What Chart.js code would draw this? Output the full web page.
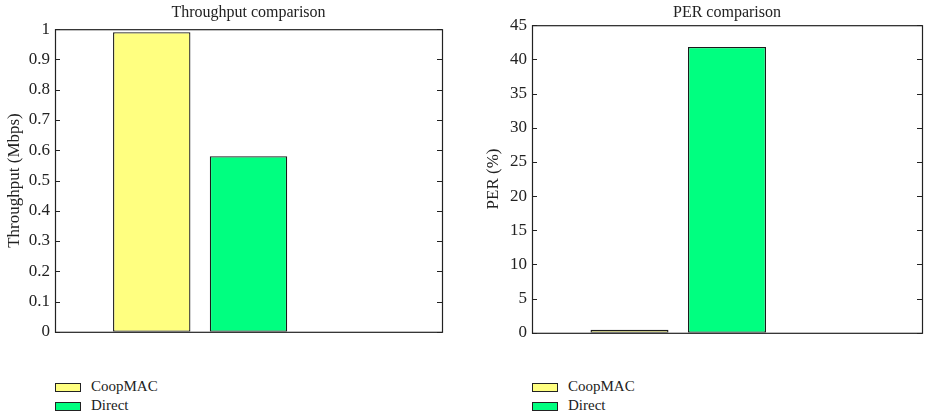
<!DOCTYPE html>
<html>
<head>
<meta charset="utf-8">
<script src="https://cdn.jsdelivr.net/npm/chart.js@4.4.0/dist/chart.umd.min.js"></script>
<style>
  body { margin: 0; background: #fff; width: 930px; height: 418px; overflow: hidden; font-family: "Liberation Serif", serif; }
  .panel { position: absolute; top: 0; width: 465px; }
  .panel canvas { display: block; }
  .legend { position: absolute; font-size: 15px; color: #222; }
  .legend div { height: 19px; line-height: 19px; white-space: nowrap; }
  .legend span.box { display: inline-block; width: 24px; height: 7px; border: 1px solid #222; margin-right: 10px; vertical-align: middle; }
</style>
</head>
<body>
<div class="panel" style="left:0"><div style="height:347px"><canvas id="thr"></canvas></div><div class="legend" id="legThr" style="left:55px;top:377px"></div></div>
<div class="panel" style="left:465px"><div style="height:348px"><canvas id="per"></canvas></div><div class="legend" id="legPer" style="left:67px;top:377px"></div></div>
<script>
const seriesNames = ["CoopMAC", "Direct"];
const seriesColors = ["#ffff80", "#00ff80"];
const barPositions = [1, 2];
const xTicks = [0, 1, 2, 3, 4];
const throughputValues = [0.99, 0.58];
const perValues = [0.45, 41.8];
const throughputTicks = [0, 0.1, 0.2, 0.3, 0.4, 0.5, 0.6, 0.7, 0.8, 0.9, 1];
const perTicks = [0, 5, 10, 15, 20, 25, 30, 35, 40, 45];

const serif = "'Liberation Serif', serif";

// box around the plot and inward tick marks on both sides
const frame = {
  id: "frame",
  afterDraw(chart) {
    const { ctx, chartArea: a } = chart;
    const y = chart.scales.y;
    ctx.save();
    ctx.strokeStyle = "#222";
    ctx.lineWidth = 1.2;
    ctx.strokeRect(a.left + 0.5, a.top + 0.5, a.right - a.left, a.bottom - a.top);
    y.ticks.forEach(t => {
      const py = Math.round(y.getPixelForValue(t.value)) + 0.5;
      ctx.beginPath();
      ctx.moveTo(a.left, py); ctx.lineTo(a.left + 5, py);
      ctx.moveTo(a.right, py); ctx.lineTo(a.right - 5, py);
      ctx.stroke();
    });
    ctx.restore();
  }
};

function makeChart(id, legId, title, yTitle, values, ticks, yMax, axisWidth, pad, titlePad) {
  const datasets = seriesNames.map((name, i) => ({
    label: name,
    data: [{ x: barPositions[i], y: values[i] }],
    backgroundColor: seriesColors[i],
    borderColor: "#1a1a1a",
    borderWidth: 1.3,
    borderSkipped: false
  }));
  const chart = new Chart(document.getElementById(id), {
    type: "bar",
    data: { datasets },
    options: {
      animation: false,
      responsive: true,
      maintainAspectRatio: false,
      layout: { padding: { left: pad[0], right: pad[1], bottom: 12, top: 0 } },
      datasets: { bar: { grouped: false, barPercentage: 0.8, categoryPercentage: 1 } },
      plugins: {
        legend: { display: false },
        tooltip: { enabled: false },
        title: {
          display: true, text: title, color: "#222", fullSize: false,
          font: { family: serif, size: 16, weight: "normal" },
          padding: { top: 3, bottom: titlePad }
        }
      },
      scales: {
        x: {
          type: "linear", min: 0, max: 4, offset: false, display: false,
          afterBuildTicks: s => { s.ticks = xTicks.map(v => ({ value: v })); }
        },
        y: {
          min: 0, max: yMax,
          afterBuildTicks: s => { s.ticks = ticks.map(v => ({ value: v })); },
          afterFit: s => { s.width = axisWidth; },
          grid: { display: false, drawTicks: false },
          border: { display: false },
          ticks: { color: "#222", padding: 5, font: { family: serif, size: 17 }, callback: v => String(v) },
          title: { display: true, text: yTitle, color: "#222", padding: 4, font: { family: serif, size: 17 } }
        }
      }
    },
    plugins: [frame]
  });
  document.getElementById(legId).innerHTML = chart.data.datasets.map(d =>
    `<div><span class="box" style="background:${d.backgroundColor}"></span>${d.label}</div>`).join("");
  return chart;
}

makeChart("thr", "legThr", "Throughput comparison", "Throughput (Mbps)", throughputValues, throughputTicks, 1, 55, [0, 23], 7);
makeChart("per", "legPer", "PER comparison", "PER (%)", perValues, perTicks, 45, 53, [14, 8], 3);
</script>
</body>
</html>
